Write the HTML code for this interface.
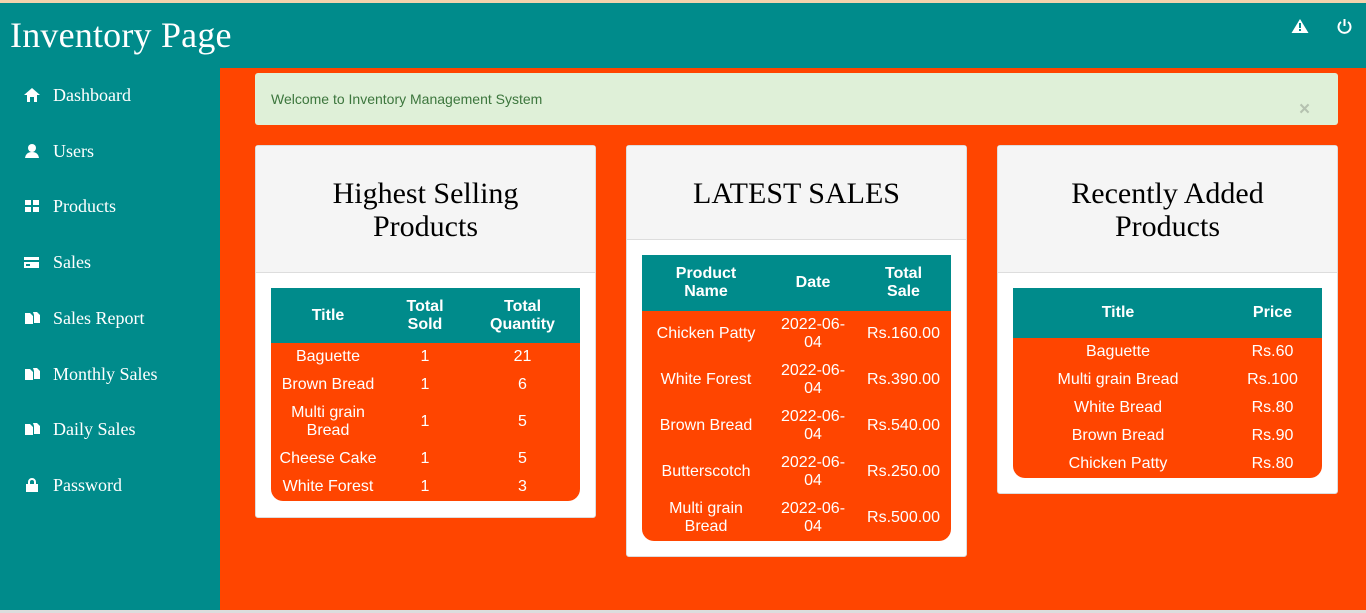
<!DOCTYPE html>
<html><head><meta charset="utf-8">
<style>
*{margin:0;padding:0;box-sizing:border-box}
body{width:1366px;height:613px;position:relative;overflow:hidden;background:#ff4500;font-family:"Liberation Sans",sans-serif}
.abs{position:absolute}
#topline{left:0;top:0;width:1366px;height:3px;background:#f3d3ad}
#header{left:0;top:3px;width:1366px;height:65px;background:#008b8b}
#title{left:10px;top:11px;font-family:"Liberation Serif",serif;font-size:36px;letter-spacing:0.2px;color:#fff}
#sidebar{left:0;top:68px;width:220px;height:542px;background:#008b8b}
.nav{position:absolute;left:24px;height:22px;color:#fff;font-family:"Liberation Serif",serif;font-size:18px;line-height:22px;white-space:nowrap}
.nav svg{position:absolute;left:0;top:4px}
.nav span{position:absolute;left:29px;top:0}
#bottom{left:0;top:610px;width:1366px;height:3px;background:#ddd}
#alert{left:255px;top:73px;width:1083px;height:52px;background:#dff0d8;border-radius:3px;color:#3c763d;font-size:14px}
#alert .t{position:absolute;left:16px;top:18px}
#alert .x{position:absolute;left:1044px;top:26px;font-size:19px;font-weight:bold;color:#b5c2b0}
.panel{position:absolute;top:145px;width:341px;background:#fff;border:1px solid #ddd;border-radius:3px}
.ph{background:#f5f5f5;border-bottom:1px solid #ddd;font-family:"Liberation Serif",serif;font-size:30px;color:#000;text-align:center;line-height:33px}
table{position:absolute;border-collapse:separate;border-spacing:0;color:#fff;font-size:16px;line-height:18px;text-align:center;background:#ff4500;border-radius:0 0 12px 12px;overflow:hidden}
th{background:#008b8b;font-weight:bold;padding:0}
td{padding:0}
</style></head><body>
<div id="topline" class="abs"></div>
<div id="header" class="abs">
 <div id="title" class="abs">Inventory Page</div>
 <svg class="abs" style="left:1291px;top:15px" width="18" height="16"><path d="M9 1 L17.5 15 L0.5 15 Z" fill="#fff"/><rect x="8" y="5" width="2" height="5" fill="#008b8b"/><rect x="8" y="11" width="2" height="2" fill="#008b8b"/></svg>
 <svg class="abs" style="left:1337px;top:15px" width="15" height="16"><path d="M4 4 A6 6 0 1 0 11 4" stroke="#fff" stroke-width="2" fill="none"/><rect x="6.5" y="1" width="2" height="7" fill="#fff"/></svg>
</div>
<div id="sidebar" class="abs">
 <div class="nav" style="top:16px"><svg width="16" height="14"><path d="M8 0 L16 7 L13 7 L13 14 L10 14 L10 9 L6 9 L6 14 L3 14 L3 7 L0 7Z" fill="#fff"/></svg><span>Dashboard</span></div>
 <div class="nav" style="top:72px"><svg width="16" height="14"><circle cx="8" cy="4" r="4" fill="#fff"/><path d="M1 14 Q2 8 8 8 Q14 8 15 14Z" fill="#fff"/></svg><span>Users</span></div>
 <div class="nav" style="top:127px"><svg width="16" height="14"><rect x="1" y="1" width="6" height="5" fill="#fff"/><rect x="9" y="1" width="6" height="5" fill="#fff"/><rect x="1" y="8" width="6" height="5" fill="#fff"/><rect x="9" y="8" width="6" height="5" fill="#fff"/></svg><span>Products</span></div>
 <div class="nav" style="top:183px"><svg width="16" height="14"><rect x="0" y="2" width="15" height="11" fill="#fff"/><rect x="0" y="5" width="15" height="2" fill="#008b8b"/><rect x="2" y="9" width="4" height="2" fill="#008b8b"/></svg><span>Sales</span></div>
 <div class="nav" style="top:239px"><svg width="16" height="14"><path d="M1 2 L6 2 L9 5 L9 13 L1 13Z M9 1 L13 1 L16 4 L16 12 L10 12 L10 4Z" fill="#fff"/></svg><span>Sales Report</span></div>
 <div class="nav" style="top:295px"><svg width="16" height="14"><path d="M1 2 L6 2 L9 5 L9 13 L1 13Z M9 1 L13 1 L16 4 L16 12 L10 12 L10 4Z" fill="#fff"/></svg><span>Monthly Sales</span></div>
 <div class="nav" style="top:350px"><svg width="16" height="14"><path d="M1 2 L6 2 L9 5 L9 13 L1 13Z M9 1 L13 1 L16 4 L16 12 L10 12 L10 4Z" fill="#fff"/></svg><span>Daily Sales</span></div>
 <div class="nav" style="top:406px"><svg width="16" height="14"><path d="M4 6 L4 4 A4 4 0 0 1 12 4 L12 6 L10 6 L10 4 A2 2 0 0 0 6 4 L6 6Z" fill="#fff"/><rect x="2" y="6" width="12" height="8" fill="#fff"/></svg><span>Password</span></div>
</div>
<div id="alert" class="abs"><span class="t">Welcome to Inventory Management System</span><span class="x">×</span></div>

<div class="panel" style="left:255px;height:373px">
 <div class="ph" style="height:127px;padding-top:31px">Highest Selling<br>Products</div>
</div>
<table style="left:271px;top:288px;width:309px">
 <colgroup><col style="width:114px"><col style="width:80px"><col style="width:115px"></colgroup>
 <tr style="height:55px"><th>Title</th><th>Total<br>Sold</th><th>Total<br>Quantity</th></tr>
 <tr style="height:28px"><td>Baguette</td><td>1</td><td>21</td></tr>
 <tr style="height:28px"><td>Brown Bread</td><td>1</td><td>6</td></tr>
 <tr style="height:46px"><td>Multi grain<br>Bread</td><td>1</td><td>5</td></tr>
 <tr style="height:28px"><td>Cheese Cake</td><td>1</td><td>5</td></tr>
 <tr style="height:28px"><td>White Forest</td><td>1</td><td>3</td></tr>
</table>

<div class="panel" style="left:626px;height:412px">
 <div class="ph" style="height:94px;padding-top:31px">LATEST SALES</div>
</div>
<table style="left:642px;top:255px;width:309px">
 <colgroup><col style="width:128px"><col style="width:86px"><col style="width:95px"></colgroup>
 <tr style="height:56px"><th>Product<br>Name</th><th>Date</th><th>Total<br>Sale</th></tr>
 <tr style="height:46px"><td>Chicken Patty</td><td>2022-06-<br>04</td><td>Rs.160.00</td></tr>
 <tr style="height:46px"><td>White Forest</td><td>2022-06-<br>04</td><td>Rs.390.00</td></tr>
 <tr style="height:46px"><td>Brown Bread</td><td>2022-06-<br>04</td><td>Rs.540.00</td></tr>
 <tr style="height:46px"><td>Butterscotch</td><td>2022-06-<br>04</td><td>Rs.250.00</td></tr>
 <tr style="height:46px"><td>Multi grain<br>Bread</td><td>2022-06-<br>04</td><td>Rs.500.00</td></tr>
</table>

<div class="panel" style="left:997px;height:349px">
 <div class="ph" style="height:127px;padding-top:31px">Recently Added<br>Products</div>
</div>
<table style="left:1013px;top:288px;width:309px">
 <colgroup><col style="width:210px"><col style="width:99px"></colgroup>
 <tr style="height:50px"><th>Title</th><th>Price</th></tr>
 <tr style="height:28px"><td>Baguette</td><td>Rs.60</td></tr>
 <tr style="height:28px"><td>Multi grain Bread</td><td>Rs.100</td></tr>
 <tr style="height:28px"><td>White Bread</td><td>Rs.80</td></tr>
 <tr style="height:28px"><td>Brown Bread</td><td>Rs.90</td></tr>
 <tr style="height:28px"><td>Chicken Patty</td><td>Rs.80</td></tr>
</table>
<div id="bottom" class="abs"></div>
</body></html>
